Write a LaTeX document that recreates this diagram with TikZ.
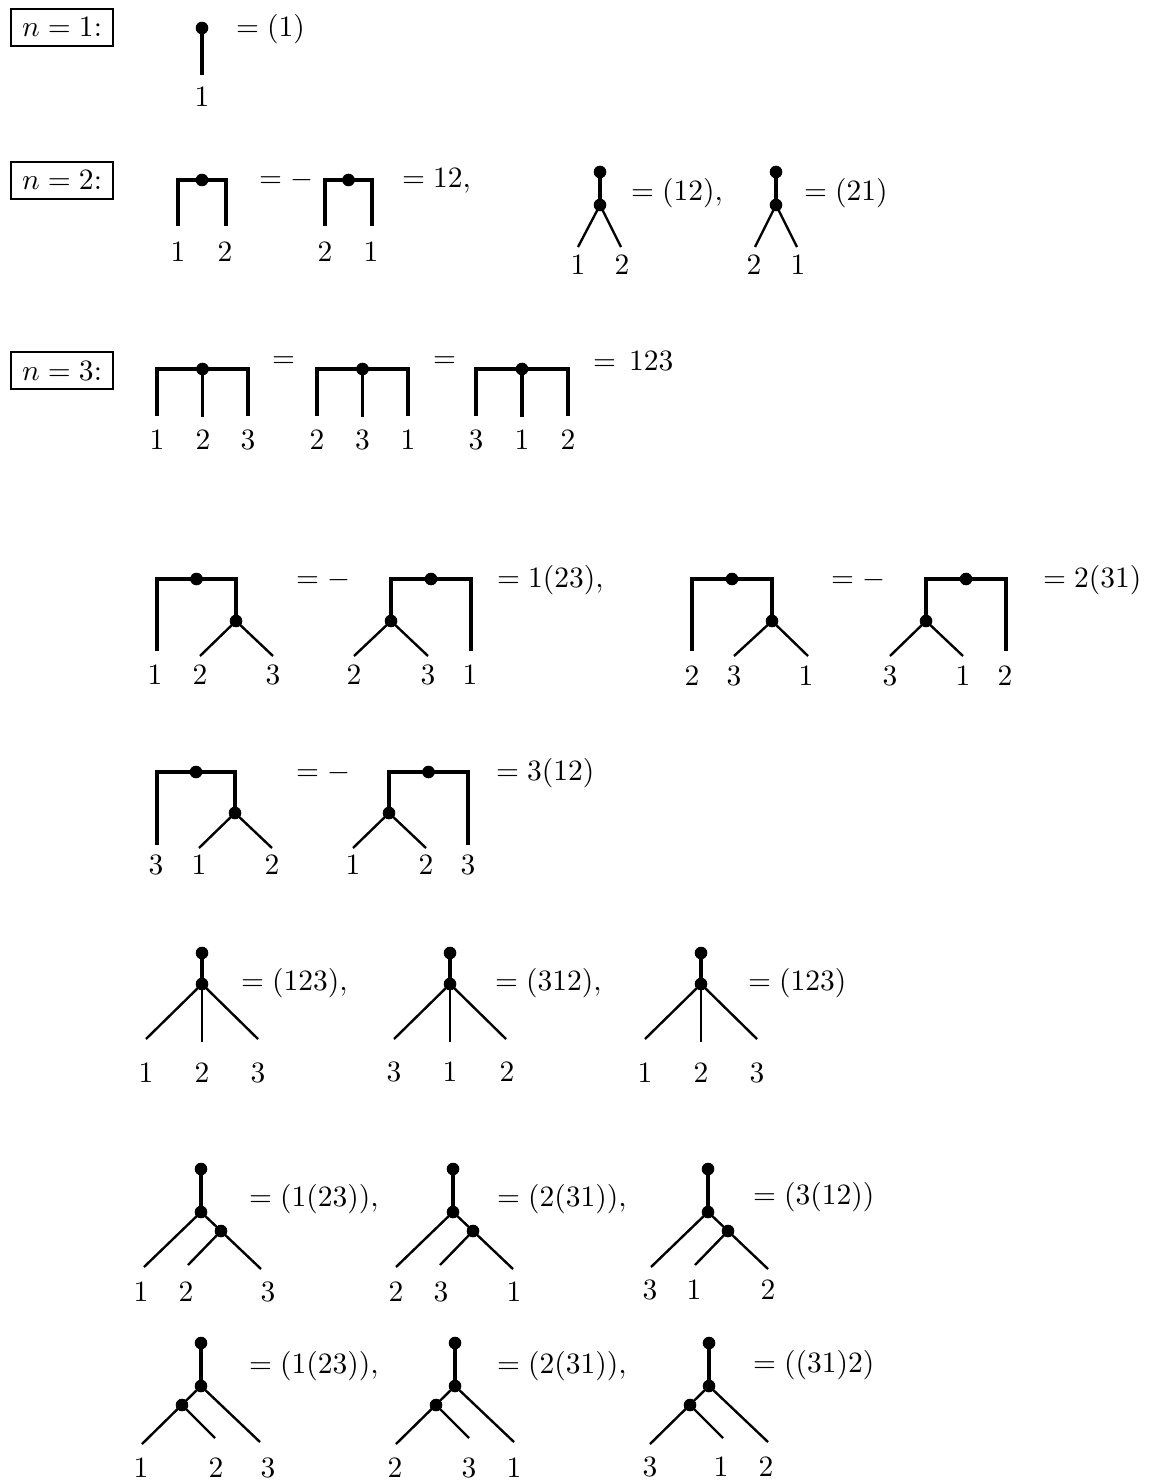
\documentclass[tikz,border=0pt]{standalone}
\tikzset{
  dot/.style={circle,fill=black,draw=none,inner sep=0pt,minimum size=4.27pt},
  thk/.style={line width=1.22pt},
  thn/.style={line width=0.81pt},
  lab/.style={inner sep=0pt,anchor=center},
  eqn/.style={inner sep=0pt,anchor=base west},
  nbox/.style={draw,line width=0.61pt,inner sep=0pt,minimum width=34.58pt,minimum height=12.54pt},
}
% bracket with dot in the middle: prefix, L, R, top, bottom
\newcommand{\TreeBr}[5]{%
  \coordinate (#1bl) at (#2,#5);
  \coordinate (#1tl) at (#2,#4);
  \coordinate (#1tr) at (#3,#4);
  \coordinate (#1br) at (#3,#5);
  \node[dot] (#1d) at ({(#2+#3)/2},#4) {};
  \draw[thk] (#1bl) -- (#1tl) -- (#1tr) -- (#1br);
}
% bracket with middle leg
\newcommand{\TreeBrT}[5]{%
  \TreeBr{#1}{#2}{#3}{#4}{#5}
  \coordinate (#1m) at ({(#2+#3)/2},{#5+1});
  \draw[thk] (#1d.center) -- (#1m);
}
% bracket with subtree on the right: prefix, L, R, T, B, D, E, xl, xr
\newcommand{\TreeSubR}[9]{%
  \coordinate (#1bl) at (#2,#5);
  \coordinate (#1tl) at (#2,#4);
  \coordinate (#1tr) at (#3,#4);
  \node[dot] (#1d) at ({(#2+#3)/2},#4) {};
  \node[dot] (#1s) at (#3,#6) {};
  \coordinate (#1el) at (#8,#7);
  \coordinate (#1er) at (#9,#7);
  \draw[thk] (#1bl) -- (#1tl) -- (#1tr) -- (#1s.center);
  \draw[thn] (#1el) -- (#1s.center) -- (#1er);
}
% bracket with subtree on the left
\newcommand{\TreeSubL}[9]{%
  \coordinate (#1br) at (#3,#5);
  \coordinate (#1tl) at (#2,#4);
  \coordinate (#1tr) at (#3,#4);
  \node[dot] (#1d) at ({(#2+#3)/2},#4) {};
  \node[dot] (#1s) at (#2,#6) {};
  \coordinate (#1el) at (#8,#7);
  \coordinate (#1er) at (#9,#7);
  \draw[thk] (#1s.center) -- (#1tl) -- (#1tr) -- (#1br);
  \draw[thn] (#1el) -- (#1s.center) -- (#1er);
}
% Y tree: prefix, x, ytop, ymid, xl, xr, yend
\newcommand{\TreeY}[7]{%
  \node[dot] (#1a) at (#2,#3) {};
  \node[dot] (#1b) at (#2,#4) {};
  \coordinate (#1el) at (#5,#7);
  \coordinate (#1er) at (#6,#7);
  \draw[thk] (#1a.center) -- (#1b.center);
  \draw[thn] (#1el) -- (#1b.center) -- (#1er);
}
% three-leg tree: prefix, x, top
\newcommand{\TreeW}[3]{%
  \node[dot] (#1a) at (#2,#3) {};
  \node[dot] (#1b) at (#2,{#3+31}) {};
  \coordinate (#1e1) at ({#2-56},{#3+86});
  \coordinate (#1e2) at (#2,{#3+89});
  \coordinate (#1e3) at ({#2+56},{#3+86});
  \draw[thk] (#1a.center) -- (#1b.center);
  \draw[thn] (#1e1) -- (#1b.center) -- (#1e3);
  \draw[thn] (#1b.center) -- (#1e2);
}
% binary tree, inner node on the right
\newcommand{\TreeRR}[3]{%
  \node[dot] (#1a) at (#2,#3) {};
  \node[dot] (#1b) at (#2,{#3+43}) {};
  \node[dot] (#1c) at ({#2+20},{#3+62}) {};
  \coordinate (#1e1) at ({#2-57},{#3+98});
  \coordinate (#1e2) at ({#2-13},{#3+96});
  \coordinate (#1e3) at ({#2+60},{#3+100});
  \draw[thk] (#1a.center) -- (#1b.center);
  \draw[thn] (#1e1) -- (#1b.center) -- (#1e3);
  \draw[thn] (#1c.center) -- (#1e2);
}
% binary tree, inner node on the left
\newcommand{\TreeLL}[3]{%
  \node[dot] (#1a) at (#2,#3) {};
  \node[dot] (#1b) at (#2,{#3+43}) {};
  \node[dot] (#1c) at ({#2-19},{#3+62}) {};
  \coordinate (#1e1) at ({#2-59},{#3+101});
  \coordinate (#1e2) at ({#2+14},{#3+95});
  \coordinate (#1e3) at ({#2+59},{#3+99});
  \draw[thk] (#1a.center) -- (#1b.center);
  \draw[thn] (#1e1) -- (#1b.center) -- (#1e3);
  \draw[thn] (#1c.center) -- (#1e2);
}
\begin{document}
\begin{tikzpicture}[x=0.33898pt,y=-0.33898pt]
\useasboundingbox (0,0) rectangle (1149,1482);

% ---------- n = 1
\node[nbox] (box1) at (62,27.5) {$n=1$:};
\node[dot] (a0) at (202,28) {};
\coordinate (a0e) at (202,75);
\draw[thk] (a0.center) -- (a0e);
\node[lab] (a0l) at (202,97) {1};
\node[eqn] (a0q) at (235.5,36.5) {$=(1)$};

% ---------- n = 2
\node[nbox] (box2) at (62,180.5) {$n=2$:};
\TreeBr{tA}{178}{226}{180}{226}
\node[lab] (tAl1) at (178,252) {1};
\node[lab] (tAl2) at (225,252) {2};
\node[eqn] (eqA) at (258.5,188) {$=-$};
\TreeBr{tB}{325}{372}{180}{226}
\node[lab] (tBl1) at (325,252) {2};
\node[lab] (tBl2) at (371,252) {1};
\node[eqn] (eqB) at (401.5,188) {$=12,$};
\TreeY{tC}{600}{172}{205}{578}{621}{247}
\node[lab] (tCl1) at (578,264.5) {1};
\node[lab] (tCl2) at (622,264.5) {2};
\node[eqn] (eqC) at (630.5,200.5) {$=(12),$};
\TreeY{tD}{776}{172}{205}{755}{797}{247}
\node[lab] (tDl1) at (754,264.5) {2};
\node[lab] (tDl2) at (798,264.5) {1};
\node[eqn] (eqD) at (803.5,200.5) {$=(21)$};

% ---------- n = 3
\node[nbox] (box3) at (62,370.5) {$n=3$:};
\TreeBrT{tE}{157}{248}{369}{416}
\node[lab] (tEl1) at (157,440) {1};
\node[lab] (tEl2) at (203,440) {2};
\node[lab] (tEl3) at (248,440) {3};
\node[eqn] (eqE) at (271.5,367.5) {$=$};
\TreeBrT{tF}{317}{408}{369}{416}
\node[lab] (tFl1) at (317,440) {2};
\node[lab] (tFl2) at (362.5,440) {3};
\node[lab] (tFl3) at (408,440) {1};
\node[eqn] (eqF) at (432.5,367.5) {$=$};
\TreeBrT{tG}{476}{568}{369}{416}
\node[lab] (tGl1) at (476,440) {3};
\node[lab] (tGl2) at (522,440) {1};
\node[lab] (tGl3) at (568,440) {2};
\node[eqn] (eqG) at (592.5,371) {$=\mkern3mu123$};

% ---------- row 4
\TreeSubR{tH}{157}{236}{579}{651}{621}{656}{200}{273}
\node[lab] (tHl1) at (155,674.5) {1};
\node[lab] (tHl2) at (200,674.5) {2};
\node[lab] (tHl3) at (273,674.5) {3};
\node[eqn] (eqH) at (295.5,587) {$=-$};
\TreeSubL{tI}{391}{471}{579}{651}{621}{656}{354}{428}
\node[lab] (tIl1) at (354,674.5) {2};
\node[lab] (tIl2) at (428,674.5) {3};
\node[lab] (tIl3) at (470,674.5) {1};
\node[eqn] (eqI) at (496.5,587.5) {$=1(23),$};
\TreeSubR{tJ}{692}{772}{579}{651}{621}{656}{734}{808}
\node[lab] (tJl1) at (692,675.5) {2};
\node[lab] (tJl2) at (734,675.5) {3};
\node[lab] (tJl3) at (806,675.5) {1};
\node[eqn] (eqJ) at (830.5,587) {$=-$};
\TreeSubL{tK}{926}{1006}{579}{651}{621}{656}{890}{963}
\node[lab] (tKl1) at (890,675.5) {3};
\node[lab] (tKl2) at (963,675.5) {1};
\node[lab] (tKl3) at (1005,675.5) {2};
\node[eqn] (eqK) at (1042.5,587) {$=2(31)$};

% ---------- row 5
\TreeSubR{tL}{157}{235}{772}{845}{813}{848}{199}{272}
\node[lab] (tLl1) at (156,865) {3};
\node[lab] (tLl2) at (199,865) {1};
\node[lab] (tLl3) at (272,865) {2};
\node[eqn] (eqL) at (295.5,780) {$=-$};
\TreeSubL{tM}{389}{468}{772}{845}{813}{848}{353}{426}
\node[lab] (tMl1) at (353,865) {1};
\node[lab] (tMl2) at (426,865) {2};
\node[lab] (tMl3) at (468,865) {3};
\node[eqn] (eqM) at (495.5,780) {$=3(12)$};

% ---------- row 6
\TreeW{tN}{202}{953}
\node[lab] (tNl1) at (146,1073) {1};
\node[lab] (tNl2) at (202,1073) {2};
\node[lab] (tNl3) at (258,1073) {3};
\node[eqn] (eqN) at (240.5,990.5) {$=(123),$};
\TreeW{tO}{450}{953}
\node[lab] (tOl1) at (394,1072) {3};
\node[lab] (tOl2) at (450,1072) {1};
\node[lab] (tOl3) at (507,1072) {2};
\node[eqn] (eqO) at (494.5,990.5) {$=(312),$};
\TreeW{tP}{701}{953}
\node[lab] (tPl1) at (645,1073) {1};
\node[lab] (tPl2) at (701,1073) {2};
\node[lab] (tPl3) at (757,1073) {3};
\node[eqn] (eqP) at (747.5,990.5) {$=(123)$};

% ---------- row 7
\TreeRR{tQ}{201}{1169}
\node[lab] (tQl1) at (141,1292) {1};
\node[lab] (tQl2) at (186,1292) {2};
\node[lab] (tQl3) at (268,1292) {3};
\node[eqn] (eqQ) at (248.5,1206.5) {$=(1(23)),$};
\TreeRR{tR}{453}{1169}
\node[lab] (tRl1) at (396,1292) {2};
\node[lab] (tRl2) at (441,1292) {3};
\node[lab] (tRl3) at (514,1292) {1};
\node[eqn] (eqR) at (496.5,1206.5) {$=(2(31)),$};
\TreeRR{tS}{708}{1169}
\node[lab] (tSl1) at (650,1290) {3};
\node[lab] (tSl2) at (694,1290) {1};
\node[lab] (tSl3) at (768,1290) {2};
\node[eqn] (eqS) at (752.5,1204.5) {$=(3(12))$};

% ---------- row 8
\TreeLL{tT}{201}{1343}
\node[lab] (tTl1) at (141,1468) {1};
\node[lab] (tTl2) at (216,1468) {2};
\node[lab] (tTl3) at (268,1468) {3};
\node[eqn] (eqT) at (248.5,1373.5) {$=(1(23)),$};
\TreeLL{tU}{455}{1343}
\node[lab] (tUl1) at (395,1468) {2};
\node[lab] (tUl2) at (469,1468) {3};
\node[lab] (tUl3) at (514,1468) {1};
\node[eqn] (eqU) at (496.5,1373.5) {$=(2(31)),$};
\TreeLL{tV}{709}{1343}
\node[lab] (tVl1) at (650,1467) {3};
\node[lab] (tVl2) at (721,1467) {1};
\node[lab] (tVl3) at (766,1467) {2};
\node[eqn] (eqV) at (752.5,1372.5) {$=((31)2)$};
\end{tikzpicture}
\end{document}
